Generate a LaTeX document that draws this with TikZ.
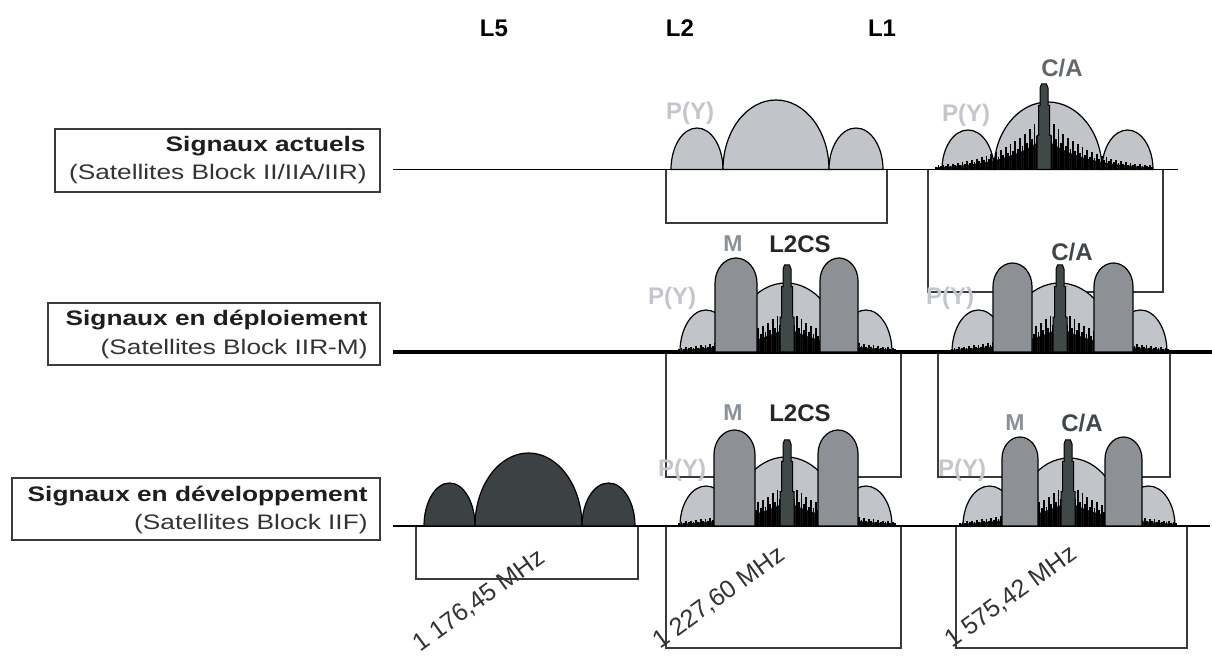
\documentclass[tikz,border=0pt]{standalone}
\usepackage{fontspec}
\setmainfont{Liberation Sans}
\newfontfamily\widefont[FakeStretch=1.25]{Liberation Sans}
\definecolor{pyfill}{HTML}{C1C4C9}
\definecolor{mfill}{HTML}{8D9195}
\definecolor{lfivefill}{HTML}{3C4143}
\definecolor{spikefill}{HTML}{404848}
\definecolor{pytext}{HTML}{C3C6CB}
\definecolor{mtext}{HTML}{8A919B}
\definecolor{catextone}{HTML}{63686C}
\definecolor{catext}{HTML}{41464A}
\definecolor{lcstext}{HTML}{262626}
\definecolor{boxc}{HTML}{3A3A3A}
\definecolor{labtext}{HTML}{1E1E1E}
\definecolor{subtext}{HTML}{333333}
% ellipse-like lobe: style, x left, x right, base y, top y
\newcommand\archlobe[5]{%
  \filldraw[#1] (#2,#4) .. controls (#2,{#4-0.5523*(#4-#5)}) and ({(#2+#3)/2-0.5523*(#3-#2)/2},#5) .. ({(#2+#3)/2},#5)
    .. controls ({(#2+#3)/2+0.5523*(#3-#2)/2},#5) and (#3,{#4-0.5523*(#4-#5)}) .. (#3,#4) -- cycle;}
% BOC lobe with straight sides and rounded top
\newcommand\boclobe[5]{%
  \filldraw[#1] (#2,#4) -- (#2,{#5+0.6*(#3-#2)})
    .. controls (#2,{#5+0.6*(#3-#2)*0.4477}) and ({(#2+#3)/2-0.5523*(#3-#2)/2},#5) .. ({(#2+#3)/2},#5)
    .. controls ({(#2+#3)/2+0.5523*(#3-#2)/2},#5) and (#3,{#5+0.6*(#3-#2)*0.4477}) .. (#3,{#5+0.6*(#3-#2)})
    -- (#3,#4) -- cycle;}
% comb of spectral lines: centre x, base y, height, decay length
\newcommand\combteeth[4]{%
  \fill[combfill] ({#1-108},#2) -- plot[domain=-108:108,samples=73] ({#1+\x},{#2-0.55*#3*exp(-abs(\x)/#4)}) -- ({#1+108},#2) -- cycle;
  \foreach \k in {-45,...,45}{%
    \pgfmathsetmacro\cbx{#1+2.4*\k}%
    \pgfmathsetmacro\cbf{0.7+0.3*equal(mod(abs(\k),2),0)}%
    \pgfmathsetmacro\cbh{#3*exp(-abs(2.4*\k)/#4)*\cbf}%
    \draw[combline] (\cbx,#2) -- (\cbx,{#2-\cbh});}}
% narrow central spike: centre x, base y, top y
\newcommand\spikelobe[3]{%
  \filldraw[spikestyle] ({#1-7},#2) -- ({#1-7},{#2-0.4*(#2-#3)}) -- ({#1-5.5},{#2-0.4*(#2-#3)})
    -- ({#1-5.5},{#2-0.75*(#2-#3)}) -- ({#1-4},{#2-0.75*(#2-#3)}) -- ({#1-4},{#3+4}) -- ({#1-2.5},#3)
    -- ({#1+2.5},#3) -- ({#1+4},{#3+4}) -- ({#1+4},{#2-0.75*(#2-#3)}) -- ({#1+5.5},{#2-0.75*(#2-#3)})
    -- ({#1+5.5},{#2-0.4*(#2-#3)}) -- ({#1+7},{#2-0.4*(#2-#3)}) -- ({#1+7},#2) -- cycle;}
\begin{document}
\begin{tikzpicture}[x=0.5pt,y=-0.5pt,
  pylobe/.style={fill=pyfill,draw=black,line width=0.6pt},
  fivelobe/.style={fill=lfivefill,draw=black,line width=0.6pt},
  mlobe/.style={fill=mfill,draw=black,line width=0.6pt},
  spikestyle/.style={fill=spikefill,draw=black,line width=0.5pt},
  combline/.style={draw=black,line width=0.9pt},
  combfill/.style={fill=black!92},
  sbox/.style={draw=boxc,line width=0.65pt},
  lbox/.style={draw=boxc,line width=0.8pt},
  rowhead/.style={inner sep=0pt,anchor=east,text=labtext,font=\widefont\fontsize{10.5}{12}\selectfont\bfseries},
  rowsub/.style={inner sep=0pt,anchor=east,text=subtext,font=\widefont\fontsize{10.5}{12}\selectfont},
  band/.style={inner sep=0pt,text=black,font=\fontsize{12}{14}\selectfont\bfseries},
  pylab/.style={inner sep=0pt,text=pytext,font=\fontsize{12}{14}\selectfont\bfseries},
  mlab/.style={inner sep=0pt,text=mtext,font=\fontsize{11.5}{14}\selectfont\bfseries},
  calab/.style={inner sep=0pt,text=catext,font=\fontsize{12}{14}\selectfont\bfseries},
  lcslab/.style={inner sep=0pt,text=lcstext,font=\fontsize{12}{14}\selectfont\bfseries},
  freq/.style={inner sep=0pt,text=subtext,font=\fontsize{12.5}{14}\selectfont}]
\useasboundingbox[fill=white] (0,0) rectangle (1212,657);

% band titles
\node[band] (tl5) at (494,28) {L5};
\node[band] (tl2) at (680,28) {L2};
\node[band] (tl1) at (882,28) {L1};

% row label boxes and texts
\draw[lbox] (55,129) rectangle (380,192);
\draw[lbox] (48,303) rectangle (380,365);
\draw[lbox] (12,478) rectangle (380,540);
\node[rowhead] (t1a) at (366,146) {Signaux actuels};
\node[rowsub]  (t1b) at (367,174) {(Satellites Block II/IIA/IIR)};
\node[rowhead] (t2a) at (368,320) {Signaux en déploiement};
\node[rowsub]  (t2b) at (368,349) {(Satellites Block IIR-M)};
\node[rowhead] (t3a) at (368,496) {Signaux en développement};
\node[rowsub]  (t3b) at (368,524) {(Satellites Block IIF)};

% bandwidth boxes
\draw[sbox] (666,169.5) rectangle (887,223);
\draw[sbox] (928,169.5) rectangle (1163,292);
\draw[sbox] (666,352) rectangle (901,477);
\draw[sbox] (938,352) rectangle (1170,477);
\draw[sbox] (416,526) rectangle (638,579);
\draw[sbox] (666,526) rectangle (901,648);
\draw[sbox] (956,526) rectangle (1187,648);

% signal labels
\node[pylab] (py1a) at (690,113) {P(Y)};
\node[pylab] (py1b) at (966,115) {P(Y)};
\node[pylab] (py2a) at (672,298) {P(Y)};
\node[pylab] (py2b) at (950,298) {P(Y)};
\node[pylab] (py3a) at (682,470) {P(Y)};
\node[pylab] (py3b) at (962,470) {P(Y)};
\node[calab,text=catextone] (ca1) at (1062,68) {C/A};
\node[mlab] (m2a) at (733,244) {M};
\node[lcslab] (cs2) at (800,244) {L2CS};
\node[calab] (ca2) at (1072,252) {C/A};
\node[mlab] (m3a) at (733,413) {M};
\node[lcslab] (cs3) at (800,413) {L2CS};
\node[mlab] (m3b) at (1015,423) {M};
\node[calab] (ca3) at (1082,423) {C/A};

% baselines
\draw[line width=0.8pt] (393,169.5) -- (1178,169.5);
\draw[line width=2pt] (393,352) -- (1212,352);
\draw[line width=0.8pt] (393,526) -- (1210,526);

% row 1, L2
\archlobe{pylobe}{671}{723}{169.5}{128}
\archlobe{pylobe}{723}{829}{169.5}{100}
\archlobe{pylobe}{829}{883}{169.5}{128}
% row 1, L1
\archlobe{pylobe}{942}{994}{169.5}{130}
\archlobe{pylobe}{994}{1102}{169.5}{102}
\archlobe{pylobe}{1102}{1153}{169.5}{130}
\combteeth{1044}{169.5}{58}{40}
\spikelobe{1044}{169.5}{84}

% row 2, L2
\archlobe{pylobe}{680}{732}{352}{310}
\archlobe{pylobe}{732}{840}{352}{283}
\archlobe{pylobe}{840}{892}{352}{310}
\combteeth{787}{352}{45}{45}
\boclobe{mlobe}{715}{757}{352}{258}
\boclobe{mlobe}{820}{858}{352}{258}
\spikelobe{787}{352}{265}
% row 2, L1
\archlobe{pylobe}{952}{1005}{352}{310}
\archlobe{pylobe}{1005}{1114}{352}{283}
\archlobe{pylobe}{1114}{1167}{352}{310}
\combteeth{1060}{352}{45}{45}
\boclobe{mlobe}{993}{1032}{352}{263}
\boclobe{mlobe}{1094}{1133}{352}{263}
\spikelobe{1060}{352}{265}

% row 3, L5
\archlobe{fivelobe}{424}{475}{526}{483}
\archlobe{fivelobe}{475}{582}{526}{453}
\archlobe{fivelobe}{582}{635}{526}{483}
% row 3, L2
\archlobe{pylobe}{680}{732}{526}{486}
\archlobe{pylobe}{732}{840}{526}{457}
\archlobe{pylobe}{840}{892}{526}{486}
\combteeth{787}{526}{45}{45}
\boclobe{mlobe}{714}{755}{526}{430}
\boclobe{mlobe}{818}{858}{526}{430}
\spikelobe{787}{526}{440}
% row 3, L1
\archlobe{pylobe}{963}{1016}{526}{486}
\archlobe{pylobe}{1016}{1122}{526}{458}
\archlobe{pylobe}{1122}{1175}{526}{486}
\combteeth{1068}{526}{45}{45}
\boclobe{mlobe}{1002}{1038}{526}{437}
\boclobe{mlobe}{1105}{1142}{526}{437}
\spikelobe{1068}{526}{440}

% frequencies
\node[freq,rotate=36] (f5) at (479,601) {1 176,45 MHz};
\node[freq,rotate=36] (f2) at (719,598) {1 227,60 MHz};
\node[freq,rotate=36] (f1) at (1011,597) {1 575,42 MHz};
\end{tikzpicture}
\end{document}
